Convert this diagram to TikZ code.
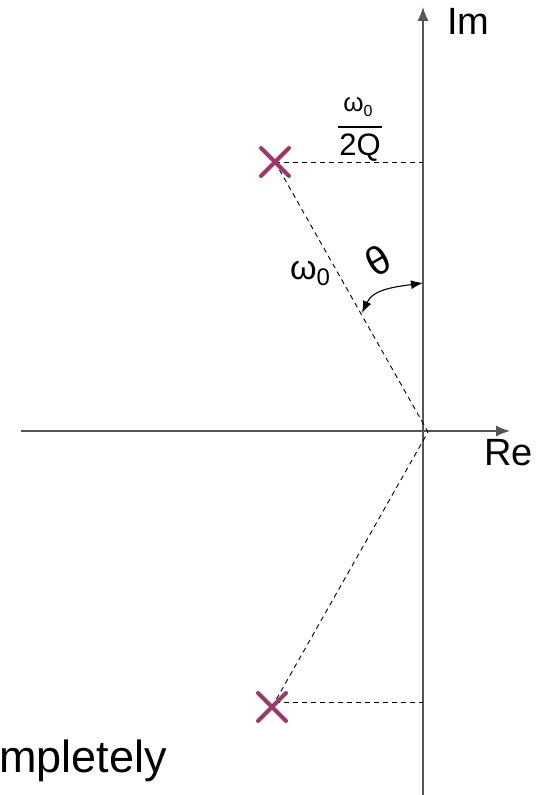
\documentclass[tikz,border=0pt]{standalone}
\usepackage{fontspec}
\setmainfont{Liberation Sans}
\usetikzlibrary{arrows.meta,calc}
\definecolor{polecol}{RGB}{155,55,105}
\definecolor{axiscol}{RGB}{85,85,85}
\tikzset{
  axisline/.style={line width=1.4pt, draw=axiscol, -{Latex[length=14pt,width=11pt]}},
  guide/.style={line width=0.9pt, dash pattern=on 5pt off 4pt},
  polemark/.style={line width=4pt, draw=polecol, line cap=round},
  lbl/.style={inner sep=0pt, font=\fontsize{38}{38}\selectfont},
  anglearrow/.style={line width=1.1pt, {Latex[length=12pt,width=9pt]}-{Latex[length=12pt,width=9pt]}}
}
\begin{document}
\begin{tikzpicture}[x=1pt,y=1pt]
\useasboundingbox (0,0) rectangle (539,795);
% key points
\coordinate (O) at (428,363);
\coordinate (ImBot) at (423,0);
\coordinate (ImTop) at (423,788);
\coordinate (ReL) at (21,364);
\coordinate (ReR) at (510,364);
\coordinate (P1) at (275,633);
\coordinate (P2) at (272,88);
\coordinate (H1) at (423,633);
\coordinate (H2s) at (275,93);
\coordinate (H2) at (423,93);
\coordinate (A) at (362,482);
\coordinate (B) at (423,512);
% axes
\draw[axisline] (ImBot) -- (ImTop);
\draw[axisline] (ReL) -- (ReR);
% guides
\draw[guide] (P1) -- (O);
\draw[guide] (P2) -- (O);
\draw[guide] (P1) -- (H1);
\draw[guide] (H2s) -- (H2);
% poles
\draw[polemark] ($(P1)+(-14,14)$) -- ($(P1)+(14,-14)$);
\draw[polemark] ($(P1)+(-14,-14)$) -- ($(P1)+(14,14)$);
\draw[polemark] ($(P2)+(-14,14)$) -- ($(P2)+(14,-14)$);
\draw[polemark] ($(P2)+(-14,-14)$) -- ($(P2)+(14,14)$);
% angle arc
\draw[anglearrow] (A) to[out=65,in=188] (B);
% labels
\node[lbl, anchor=base west] (im) at (447,760) {Im};
\node[lbl, anchor=base west] (re) at (484,329) {Re};
\node[inner sep=0pt, rotate=30, font=\fontsize{40}{40}\selectfont] (theta) at (378,534) {θ};
\node[inner sep=0pt, font=\fontsize{34}{34}\selectfont] (w0) at (310,522) {ω\raisebox{-6pt}{\fontsize{24}{24}\selectfont 0}};
\node[inner sep=0pt, font=\fontsize{26}{26}\selectfont] (num) at (358,688) {ω\raisebox{-5pt}{\fontsize{16}{16}\selectfont 0}};
\draw[line width=1.4pt] (338,668) -- (382,668);
\node[inner sep=0pt, font=\fontsize{31}{31}\selectfont] (den) at (360,647) {2Q};
\node[inner sep=0pt, anchor=base west, font=\fontsize{45}{45}\selectfont] (cut) at (-1,22) {mpletely};
\end{tikzpicture}
\end{document}
